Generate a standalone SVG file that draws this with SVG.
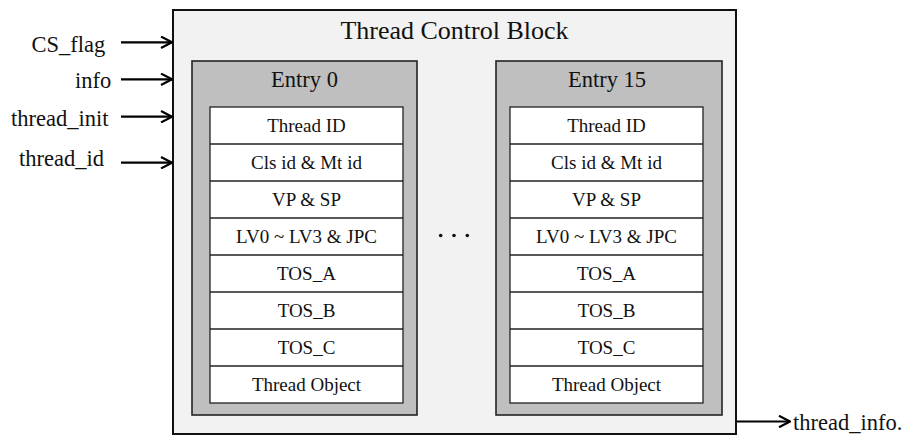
<svg xmlns="http://www.w3.org/2000/svg" width="903" height="436" viewBox="0 0 903 436">
<style>
text{font-family:"Liberation Serif","Times New Roman",serif;fill:#111}
.lbl{font-size:22.5px}
.ttl{font-size:26px;text-anchor:middle}
.ent{font-size:22.5px;text-anchor:middle}
.row{font-size:19px;text-anchor:middle}
.outer{fill:#f2f2f2;stroke:#111;stroke-width:2}
.gray{fill:#bfbfbf;stroke:#222;stroke-width:1.6}
.cell{fill:#fff;stroke:#222;stroke-width:1.3}
.arr{stroke:#000;stroke-width:2.2;fill:none;marker-end:url(#chev)}
</style>
<defs>
<marker id="chev" viewBox="0 0 13 13" refX="12" refY="6.5" markerWidth="13" markerHeight="13" markerUnits="userSpaceOnUse" orient="auto">
<path d="M1,0.8 L12,6.5 L1,12.2" fill="none" stroke="#000" stroke-width="2.2"/>
</marker>
</defs>
<g id="tcb">
<rect class="outer" x="173" y="10" width="563" height="424"/>
<text class="ttl" x="454.5" y="38.5">Thread Control Block</text>
</g>
<g id="entry0">
<rect class="gray" x="192" y="61" width="225" height="354"/>
<text class="ent" x="304.5" y="86.5">Entry 0</text>
<rect class="cell" x="210" y="107" width="193" height="296"/>
<path class="cell" d="M210,144H403M210,181H403M210,218H403M210,255H403M210,292H403M210,329H403M210,366H403"/>
<text class="row" x="306.5" y="132">Thread ID</text>
<text class="row" x="306.5" y="169">Cls id &amp; Mt id</text>
<text class="row" x="306.5" y="206">VP &amp; SP</text>
<text class="row" x="306.5" y="243">LV0 ~ LV3 &amp; JPC</text>
<text class="row" x="306.5" y="280">TOS_A</text>
<text class="row" x="306.5" y="317">TOS_B</text>
<text class="row" x="306.5" y="354">TOS_C</text>
<text class="row" x="306.5" y="391">Thread Object</text>
</g>
<g id="dots" fill="#111">
<circle cx="440.7" cy="235.5" r="1.8"/>
<circle cx="454" cy="235.5" r="1.8"/>
<circle cx="467.3" cy="235.5" r="1.8"/>
</g>
<g id="entry15">
<rect class="gray" x="496" y="61" width="226" height="354"/>
<text class="ent" x="607" y="86.5">Entry 15</text>
<rect class="cell" x="510" y="107" width="193" height="296"/>
<path class="cell" d="M510,144H703M510,181H703M510,218H703M510,255H703M510,292H703M510,329H703M510,366H703"/>
<text class="row" x="606.5" y="132">Thread ID</text>
<text class="row" x="606.5" y="169">Cls id &amp; Mt id</text>
<text class="row" x="606.5" y="206">VP &amp; SP</text>
<text class="row" x="606.5" y="243">LV0 ~ LV3 &amp; JPC</text>
<text class="row" x="606.5" y="280">TOS_A</text>
<text class="row" x="606.5" y="317">TOS_B</text>
<text class="row" x="606.5" y="354">TOS_C</text>
<text class="row" x="606.5" y="391">Thread Object</text>
</g>
<g id="labels">
<text class="lbl" x="31.5" y="51.5">CS_flag</text>
<text class="lbl" x="75" y="87.5">info</text>
<text class="lbl" x="11" y="126">thread_init</text>
<text class="lbl" x="19" y="165.5">thread_id</text>
<text class="lbl" x="793" y="430">thread_info.</text>
</g>
<g id="connectors">
<line class="arr" x1="121" y1="42.3" x2="172" y2="42.3"/>
<line class="arr" x1="121" y1="79.3" x2="172" y2="79.3"/>
<line class="arr" x1="121" y1="116.7" x2="172" y2="116.7"/>
<line class="arr" x1="121" y1="162.7" x2="172" y2="162.7"/>
<line class="arr" x1="737" y1="421.5" x2="790" y2="421.5"/>
</g>
</svg>
